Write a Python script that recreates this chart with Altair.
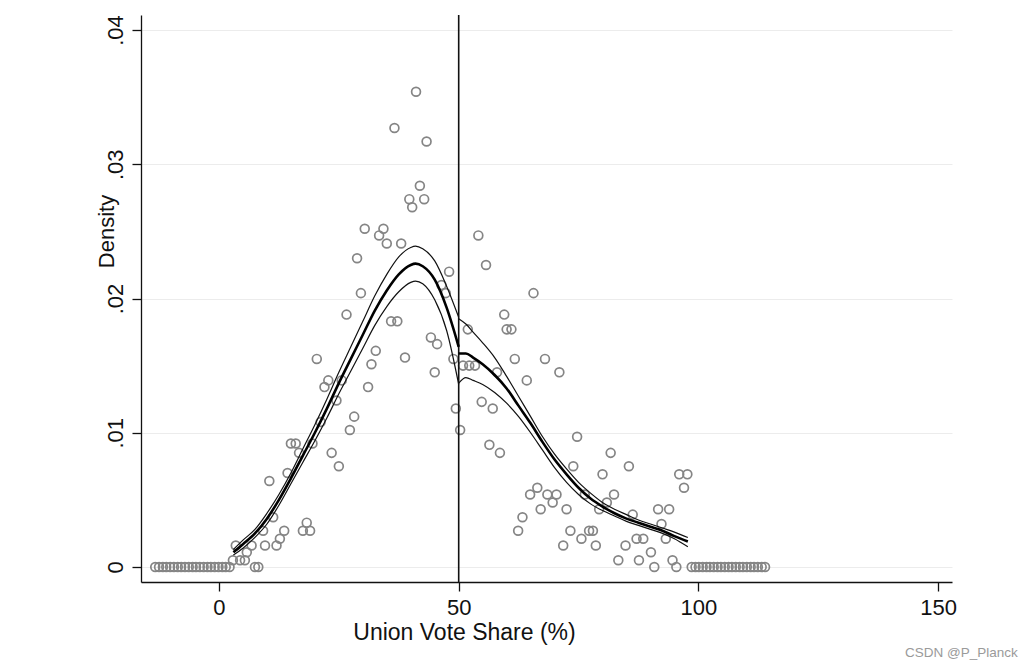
import altair as alt
import pandas as pd

# ---- data ----
cutoff = [50]

left_tail_x = [-13.3, -12.5, -11.7, -11.0, -10.2, -9.4, -8.6, -7.9, -7.1, -6.3, -5.5,
               -4.8, -4.0, -3.2, -2.4, -1.7, -0.9, -0.1, 0.7, 1.4, 2.2]
left_tail_y = [0.0, 0.0, 0.0, 0.0, 0.0, 0.0, 0.0, 0.0, 0.0, 0.0, 0.0,
               0.0, 0.0, 0.0, 0.0, 0.0, 0.0, 0.0, 0.0, 0.0, 0.0]

left_bin_x = [2.9, 3.5, 4.4, 5.4, 5.8, 6.8, 7.5, 8.2, 9.2, 9.6,
              10.5, 11.3, 12.0, 12.7, 13.6, 14.3, 15.0, 16.0, 16.7, 17.5,
              18.3, 19.0, 19.5, 20.4, 21.2, 22.0, 22.8, 23.5, 24.5, 25.0,
              25.6, 26.6, 27.3, 28.2, 28.8, 29.6, 30.4, 31.1, 31.8, 32.7,
              33.4, 34.3, 35.0, 35.9, 36.6, 37.2, 38.0, 38.8, 39.7, 40.3,
              41.1, 41.9, 42.8, 43.3, 44.2, 45.0, 45.5, 46.4, 47.3, 48.0,
              48.9, 49.4]
left_bin_y = [0.0005, 0.0016, 0.0005, 0.0005, 0.0011, 0.0016, 0.0, 0.0, 0.0027, 0.0016,
              0.0064, 0.0037, 0.0016, 0.0021, 0.0027, 0.0070, 0.0092, 0.0092, 0.0085, 0.0027,
              0.0033, 0.0027, 0.0092, 0.0155, 0.0108, 0.0134, 0.0139, 0.0085, 0.0124, 0.0075,
              0.0139, 0.0188, 0.0102, 0.0112, 0.0230, 0.0204, 0.0252, 0.0134, 0.0151, 0.0161,
              0.0247, 0.0252, 0.0241, 0.0183, 0.0327, 0.0183, 0.0241, 0.0156, 0.0274, 0.0268,
              0.0354, 0.0284, 0.0274, 0.0317, 0.0171, 0.0145, 0.0166, 0.0210, 0.0204, 0.0220,
              0.0155, 0.0118]

right_bin_x = [50.3, 50.9, 51.9, 52.2, 53.4, 54.1, 54.8, 55.7, 56.4, 57.1,
               58.0, 58.6, 59.5, 60.0, 61.0, 61.7, 62.4, 63.3, 64.2, 64.9,
               65.6, 66.4, 67.1, 68.0, 68.5, 69.6, 70.4, 71.0, 71.8, 72.5,
               73.3, 73.9, 74.7, 75.6, 76.3, 77.2, 78.0, 78.6, 79.3, 80.0,
               80.9, 81.7, 82.4, 83.3, 84.8, 85.5, 86.3, 87.1, 87.6, 88.5,
               90.1, 90.8, 91.6, 92.3, 93.2, 93.9, 94.6, 95.4, 96.0, 97.0,
               97.7]
right_bin_y = [0.0102, 0.0150, 0.0177, 0.0150, 0.0150, 0.0247, 0.0123, 0.0225, 0.0091, 0.0118,
               0.0145, 0.0085, 0.0188, 0.0177, 0.0177, 0.0155, 0.0027, 0.0037, 0.0139, 0.0054,
               0.0204, 0.0059, 0.0043, 0.0155, 0.0054, 0.0048, 0.0054, 0.0145, 0.0016, 0.0043,
               0.0027, 0.0075, 0.0097, 0.0021, 0.0054, 0.0027, 0.0027, 0.0016, 0.0043, 0.0069,
               0.0048, 0.0085, 0.0054, 0.0005, 0.0016, 0.0075, 0.0039, 0.0021, 0.0005, 0.0021,
               0.0011, 0.0, 0.0043, 0.0032, 0.0021, 0.0043, 0.0005, 0.0, 0.0069, 0.0059,
               0.0069]

right_tail_x = [98.6, 99.4, 100.1, 100.9, 101.7, 102.4, 103.2, 104.0, 104.7, 105.5, 106.3,
                107.0, 107.8, 108.6, 109.3, 110.1, 110.9, 111.6, 112.4, 113.2, 113.9]
right_tail_y = [0.0, 0.0, 0.0, 0.0, 0.0, 0.0, 0.0, 0.0, 0.0, 0.0, 0.0,
                0.0, 0.0, 0.0, 0.0, 0.0, 0.0, 0.0, 0.0, 0.0, 0.0]

left_x = [3, 5, 7.5, 10, 12.5, 15, 17.5, 20, 22.5, 25, 27.5, 30, 32.5, 35, 37.5, 40, 41, 42.5, 45, 47.5, 50]
left_fit = [0.0011, 0.0017, 0.0025, 0.0036, 0.0050, 0.0066, 0.0083, 0.0100, 0.0118, 0.0137, 0.0155,
            0.0173, 0.0191, 0.0206, 0.0218, 0.0225, 0.0226, 0.0224, 0.0214, 0.0193, 0.0164]
left_hi = [0.0013, 0.0020, 0.0028, 0.0040, 0.0054, 0.0070, 0.0088, 0.0106, 0.0125, 0.0145, 0.0164,
           0.0183, 0.0202, 0.0218, 0.0231, 0.0238, 0.0239, 0.0237, 0.0228, 0.0209, 0.0186]
left_lo = [0.0009, 0.0014, 0.0022, 0.0032, 0.0046, 0.0062, 0.0078, 0.0094, 0.0111, 0.0129, 0.0146,
           0.0163, 0.0180, 0.0194, 0.0205, 0.0212, 0.0213, 0.0211, 0.0199, 0.0176, 0.0136]

right_x = [50, 51.5, 53, 55, 57.5, 60, 62.5, 65, 67.5, 70, 72.5, 75, 77.5, 80, 82.5, 85, 87.5, 90, 92.5, 95, 97.8]
right_fit = [0.0159, 0.0159, 0.0156, 0.0151, 0.0143, 0.0133, 0.0120, 0.0107, 0.0093, 0.0080, 0.0069,
             0.0059, 0.0051, 0.0045, 0.0040, 0.0036, 0.0033, 0.0030, 0.0027, 0.0023, 0.0019]
right_hi = [0.0185, 0.0181, 0.0175, 0.0167, 0.0156, 0.0142, 0.0127, 0.0112, 0.0097, 0.0084, 0.0073,
            0.0063, 0.0055, 0.0048, 0.0043, 0.0039, 0.0035, 0.0032, 0.0029, 0.0026, 0.0022]
right_lo = [0.0137, 0.0141, 0.0139, 0.0136, 0.0130, 0.0122, 0.0112, 0.0100, 0.0087, 0.0074, 0.0063,
            0.0054, 0.0047, 0.0042, 0.0038, 0.0034, 0.0031, 0.0028, 0.0025, 0.0021, 0.0015]

x_ticks = [0, 50, 100, 150]
y_ticks = [0, 0.01, 0.02, 0.03, 0.04]
watermark = ["CSDN @P_Planck"]

# ---- tables ----
pts = pd.DataFrame({
    "x": left_tail_x + left_bin_x + right_bin_x + right_tail_x,
    "y": left_tail_y + left_bin_y + right_bin_y + right_tail_y,
})

fit = pd.concat([
    pd.DataFrame({"x": left_x, "y": left_fit, "side": "L"}),
    pd.DataFrame({"x": right_x, "y": right_fit, "side": "R"}),
])
ci = pd.concat([
    pd.DataFrame({"x": left_x, "y": left_hi, "series": "L_hi"}),
    pd.DataFrame({"x": left_x, "y": left_lo, "series": "L_lo"}),
    pd.DataFrame({"x": right_x, "y": right_hi, "series": "R_hi"}),
    pd.DataFrame({"x": right_x, "y": right_lo, "series": "R_lo"}),
])

FONT = "Liberation Sans"

x_enc = alt.X(
    "x:Q",
    scale=alt.Scale(domain=[-16.27, 152.9], nice=False, zero=False),
    axis=alt.Axis(
        values=x_ticks, title="Union Vote Share (%)", grid=False,
        tickSize=9, tickColor="#111", tickWidth=1.3,
        domainColor="#111", domainWidth=1.3,
        labelFont=FONT, labelFontSize=22, labelColor="#111", labelPadding=6,
        labelFlush=False, labelOverlap=False,
        titleFont=FONT, titleFontSize=23, titleFontWeight="normal", titleColor="#111",
        titleX=323, titleY=57, titleAlign="center", titleBaseline="alphabetic",
    ),
)
y_enc = alt.Y(
    "y:Q",
    scale=alt.Scale(domain=[-0.00112, 0.04112], nice=False, zero=False),
    axis=alt.Axis(
        values=y_ticks,
        labelExpr="datum.value == 0 ? '0' : replace(format(datum.value, '.2f'), '0.', '.')",
        title="Density", grid=True, gridColor="#ececec", gridWidth=1,
        tickSize=9, tickColor="#111", tickWidth=1.3,
        domainColor="#111", domainWidth=1.3,
        labelFont=FONT, labelFontSize=22, labelColor="#111", labelPadding=10,
        labelAngle=270, labelAlign="center", labelBaseline="alphabetic", labelOverlap=False,
        titleFont=FONT, titleFontSize=22, titleFontWeight="normal", titleColor="#111",
        titleAngle=270, titleX=-28, titleY=216, titleAlign="center", titleBaseline="alphabetic",
    ),
)

points = alt.Chart(pts).mark_point(
    shape="circle", filled=False, size=78, color="#858585", strokeWidth=1.7, opacity=1
).encode(x=x_enc, y=y_enc)

rule = alt.Chart(pd.DataFrame({"x": cutoff})).mark_rule(
    color="#111", strokeWidth=1.6
).encode(x=x_enc)

ci_lines = alt.Chart(ci).mark_line(
    color="#111", strokeWidth=1.2, interpolate="monotone"
).encode(x=x_enc, y=y_enc, detail="series:N")

fit_lines = alt.Chart(fit).mark_line(
    color="#000", strokeWidth=2.6, interpolate="monotone"
).encode(x=x_enc, y=y_enc, detail="side:N")

mark_wm = alt.Chart(pd.DataFrame({"t": watermark})).mark_text(
    align="left", baseline="alphabetic", fontSize=13.5, color="#9a9a9a", font=FONT
).encode(x=alt.value(764), y=alt.value(642), text="t:N")

chart = alt.layer(points, rule, ci_lines, fit_lines, mark_wm).properties(
    width=811, height=567,
    padding={"left": 133, "top": 7, "right": 75, "bottom": 85},
    autosize=alt.AutoSizeParams(type="none"),
    background="white",
).configure_view(strokeWidth=0)

chart.save("out.html", embed_options={"renderer": "svg", "actions": False})
